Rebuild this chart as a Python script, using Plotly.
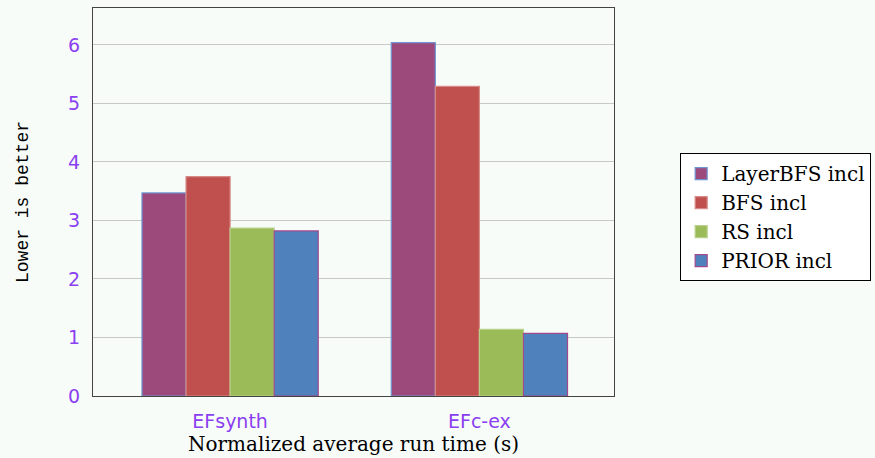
import plotly.graph_objects as go

categories = ["EFsynth", "EFc-ex"]
series_names = ["LayerBFS incl", "BFS incl", "RS incl", "PRIOR incl"]
layerbfs = [3.47, 6.04]
bfs = [3.75, 5.29]
rs = [2.87, 1.14]
prior = [2.82, 1.07]

fills = ["#9c4a7b", "#c0504d", "#9bbb59", "#4f81bd"]
edges = ["#6f95d2", "#d88a88", "#b8d08a", "#a1498c"]

fig = go.Figure()
for name, vals, fc, ec in zip(series_names, [layerbfs, bfs, rs, prior], fills, edges):
    fig.add_trace(go.Bar(x=categories, y=vals, name=name,
                         marker=dict(color=fc, line=dict(color=ec, width=1.2))))

bg = "#f8fcf8"
fig.update_layout(
    width=875, height=458,
    margin=dict(l=93, r=261, t=8, b=62, autoexpand=False),
    paper_bgcolor=bg, plot_bgcolor=bg,
    barmode="group", bargap=0.293, bargroupgap=0,
    showlegend=True,
    legend=dict(x=1.127, y=0.461, xanchor="left", yanchor="middle",
                bgcolor="white", bordercolor="black", borderwidth=1,
                font=dict(family="DejaVu Serif", size=20, color="black"),
                tracegroupgap=0),
)
fig.update_xaxes(
    range=[-0.55, 1.54], showgrid=False,
    showline=True, linecolor="#444444", linewidth=1, mirror=True,
    ticks="", ticklabelstandoff=8,
    tickfont=dict(family="DejaVu Sans", size=19, color="#8a3ff0"),
    title=dict(text="Normalized average run time (s)", standoff=0,
               font=dict(family="DejaVu Serif", size=20, color="black")),
)
fig.update_yaxes(
    range=[0, 6.63], dtick=1, showgrid=True, gridcolor="#c8c8c8", gridwidth=1,
    showline=True, linecolor="#444444", linewidth=1, mirror=True, zeroline=False,
    ticks="", ticklabelstandoff=8,
    tickfont=dict(family="DejaVu Sans", size=19, color="#8a3ff0"),
    title=dict(text="Lower is better", standoff=34,
               font=dict(family="Liberation Mono", size=18, color="black")),
)

fig.write_html("out.html", config={"displayModeBar": False},
               post_script="document.body.style.margin='0';")
